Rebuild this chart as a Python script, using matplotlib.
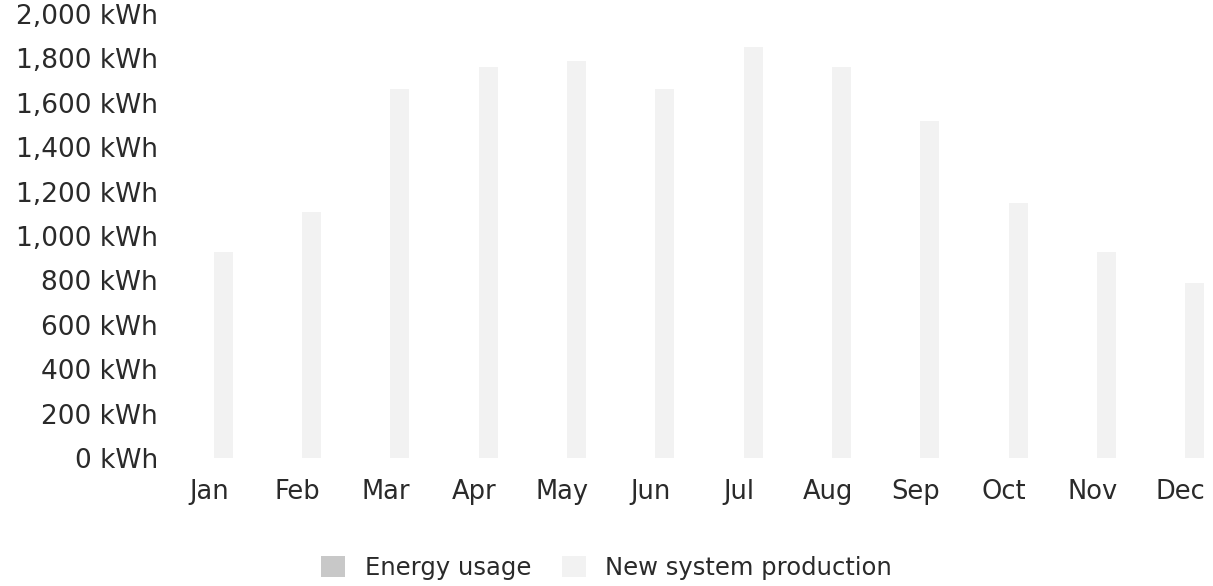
import matplotlib
matplotlib.use("Agg")
import matplotlib.pyplot as plt
import numpy as np
from matplotlib.patches import Patch

months = ["Jan", "Feb", "Mar", "Apr", "May", "Jun",
          "Jul", "Aug", "Sep", "Oct", "Nov", "Dec"]
energy_usage = [0, 0, 0, 0, 0, 0, 0, 0, 0, 0, 0, 0]
new_production = [930, 1110, 1660, 1760, 1790, 1660, 1850, 1760, 1520, 1150, 930, 790]
y_ticks = [0, 200, 400, 600, 800, 1000, 1200, 1400, 1600, 1800, 2000]
y_labels = [f"{v:,} kWh" for v in y_ticks]

usage_color = "#c8c8c8"
prod_color = "#f2f2f2"
text_color = "#2a2a2a"

plt.rcParams['font.family'] = ['DejaVu Sans']

W, H = 1213, 586
fig = plt.figure(figsize=(W / 100, H / 100), dpi=100)
ax = fig.add_axes([165 / W, 128 / H, 1060 / W, 444 / H])

x = np.arange(len(months))
off = 0.16
bw = 0.215
ax.bar(x - off, energy_usage, width=bw, color=usage_color, linewidth=0)
ax.bar(x + off, new_production, width=bw, color=prod_color, linewidth=0)

ax.set_xlim(-0.5, 11.5)
ax.set_ylim(0, 2000)
ax.set_xticks(x)
ax.set_xticklabels(months, fontsize=18.5, color=text_color)
ax.set_yticks(y_ticks)
ax.set_yticklabels(y_labels, fontsize=19, color=text_color)
ax.tick_params(axis='x', length=0, pad=15)
ax.tick_params(axis='y', length=0, pad=5)
for s in ax.spines.values():
    s.set_visible(False)
ax.set_facecolor("white")

handles = [Patch(facecolor=usage_color, edgecolor='none', label="Energy usage"),
           Patch(facecolor=prod_color, edgecolor='none', label="New system production")]
fig.legend(handles=handles, loc='center', bbox_to_anchor=(0.5, 18 / H), ncol=2,
           frameon=False, fontsize=17.5, handlelength=1.0, handleheight=0.95,
           handletextpad=0.8, columnspacing=1.25, labelcolor=text_color,
           borderaxespad=0, borderpad=0)

fig.savefig("out.png", dpi=100, facecolor="white")
